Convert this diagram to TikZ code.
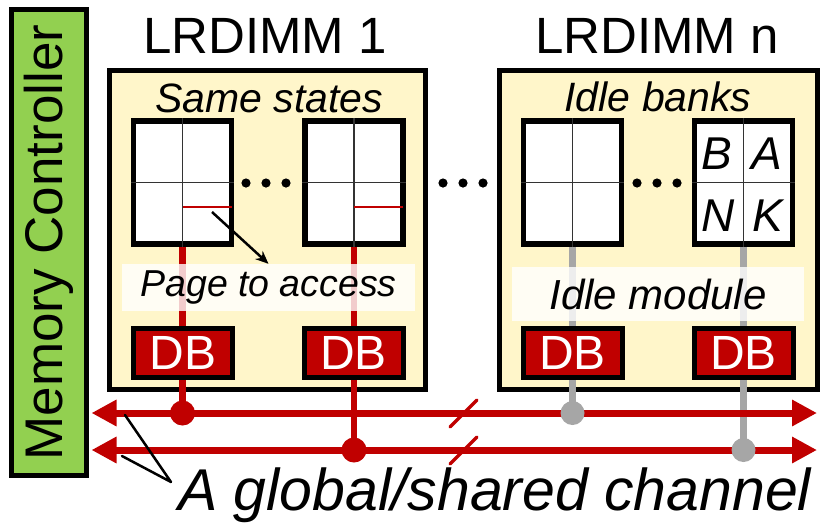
\documentclass[tikz,border=0pt]{standalone}
\usepackage{fontspec}
\setmainfont{Liberation Sans}
\usetikzlibrary{arrows.meta}

\definecolor{ctrlgreen}{HTML}{92D050}
\definecolor{dimmfill}{HTML}{FFF6CA}
\definecolor{busred}{HTML}{C00000}
\definecolor{idlegray}{HTML}{A6A6A6}

\pgfdeclarelayer{modlayer}
\pgfdeclarelayer{wirelayer}
\pgfsetlayers{modlayer,wirelayer,main}

\newcommand{\fsz}[1]{\fontsize{#1pt}{#1pt}\selectfont}

\tikzset{
  ctrlbox/.style={draw=black, line width=5pt, fill=ctrlgreen, minimum width=75pt, minimum height=466pt, inner sep=0pt},
  module/.style={draw=black, line width=5pt, fill=dimmfill, minimum height=319pt, inner sep=0pt},
  chip/.style={draw=black, line width=5.5pt, fill=white, minimum width=98pt, minimum height=123pt, inner sep=0pt},
  gridline/.style={draw=black!80, line width=1.5pt},
  pageline/.style={draw=busred, line width=2pt},
  dbbox/.style={draw=black, line width=5pt, fill=busred, text=white, minimum width=99pt, minimum height=49pt, inner sep=0pt, font=\fsz{48}},
  labelbox/.style={fill=white, fill opacity=0.8, text opacity=1, inner sep=0pt, font=\fsz{37.5}\itshape},
  title/.style={anchor=base, font=\fsz{51}},
  subtitle/.style={anchor=base, font=\fsz{41}\itshape},
  bankletter/.style={font=\fsz{46}\itshape, inner sep=0pt},
  redwire/.style={draw=busred, line width=6.5pt},
  graywire/.style={draw=idlegray, line width=6.5pt},
  bus/.style={draw=busred, line width=7pt, {Triangle[length=25pt,width=25pt]}-{Triangle[length=25pt,width=25pt]}},
  breakmark/.style={draw=busred, line width=3.5pt, line cap=round},
  dotsep/.style={fill=black},
  pointer/.style={draw=black, line width=2.5pt, -{Stealth[length=13pt,width=11pt]}},
  callout/.style={draw=black, line width=2.5pt, line join=round, line cap=round},
}

\begin{document}
\begin{tikzpicture}[x=1pt,y=-1pt]
\useasboundingbox (0,0) rectangle (827,523);

% memory controller
\node[ctrlbox] (mc) at (49,242.5) {};
\node[rotate=90, font=\fsz{53}, inner sep=0pt] (mctext) at (mc.center) {Memory Controller};

% module frames
\begin{pgfonlayer}{modlayer}
  \node[module, minimum width=316pt] (m1) at (267.5,230) {};
  \node[module, minimum width=318pt] (mn) at (658.5,230) {};
\end{pgfonlayer}

\node[title] (t1) at (265,53) {LRDIMM 1};
\node[title] (tn) at (657,53) {LRDIMM n};
\node[subtitle] (s1) at (269,112) {Same states};
\node[subtitle] (sn) at (658,111) {Idle banks};

% bank chips
\node[chip] (c1) at (182.5,182.5) {};
\node[chip] (c2) at (354,182.5) {};
\node[chip] (c3) at (572.5,182.5) {};
\node[chip] (c4) at (743.5,182.5) {};
\foreach \c in {c1,c2,c3,c4}{
  \draw[gridline] (\c.north) -- (\c.south);
  \draw[gridline] (\c.west) -- (\c.east);
}
\foreach \c in {c1,c2}{
  \draw[pageline] ([yshift=-24.5pt]\c.center) -- ([xshift=-2.75pt,yshift=-24.5pt]\c.east);
}
\node[bankletter] (bB) at (717,153.5) {B};
\node[bankletter] (bA) at (767,153.5) {A};
\node[bankletter] (bN) at (718,216) {N};
\node[bankletter] (bK) at (768,216) {K};

% ellipsis dots
\foreach \x in {246,266,286, 443,463,483, 637,657,677}
  \fill[dotsep] (\x,183) circle (4.6pt);

% data buffers
\node[dbbox] (d1) at (183,353) {DB};
\node[dbbox] (d2) at (353.5,353) {DB};
\node[dbbox] (d3) at (572.5,353) {DB};
\node[dbbox] (d4) at (743.5,353) {DB};

% bus taps and channel
\coordinate (u1) at (182.5,413);
\coordinate (l2) at (354,450);
\coordinate (u3) at (572.5,413);
\coordinate (l4) at (743.5,450);
\coordinate (mcr) at ([xshift=2.5pt]mc.east);
\coordinate (ue) at (817,413);
\coordinate (le) at (817,450);

\begin{pgfonlayer}{wirelayer}
  \draw[redwire] (c1.south) -- (u1);
  \draw[redwire] (c2.south) -- (l2);
  \draw[graywire] (c3.south) -- (u3);
  \draw[graywire] (c4.south) -- (l4);
  \draw[bus] (mcr |- ue) -- (ue);
  \draw[bus] (mcr |- le) -- (le);
\end{pgfonlayer}

\fill[busred] (u1) circle (12.5pt);
\fill[busred] (l2) circle (12.5pt);
\fill[idlegray] (u3) circle (12pt);
\fill[idlegray] (l4) circle (12pt);

\draw[breakmark] (450,427) -- (477,400);
\draw[breakmark] (450,464) -- (477,437);

% labels over the wires
\node[labelbox, minimum width=293pt, minimum height=47pt] (lab1) at (268.5,287.5) {Page to access};
\node[labelbox, minimum width=292pt, minimum height=54pt, font=\fsz{42}\itshape] (lab2) at (658,294) {Idle module};

\coordinate (pg1) at (212,212);
\draw[pointer] (pg1) -- (lab1.north);

% channel caption
\node[anchor=base west, font=\fsz{59}\itshape, inner sep=0pt] (cap) at (178,510) {A global/shared channel};
\coordinate (ca1) at (125,415);
\coordinate (cv) at (171,482);
\coordinate (ca2) at (122,456);
\draw[callout] (ca1) -- (cv) -- (ca2);
\end{tikzpicture}
\end{document}
